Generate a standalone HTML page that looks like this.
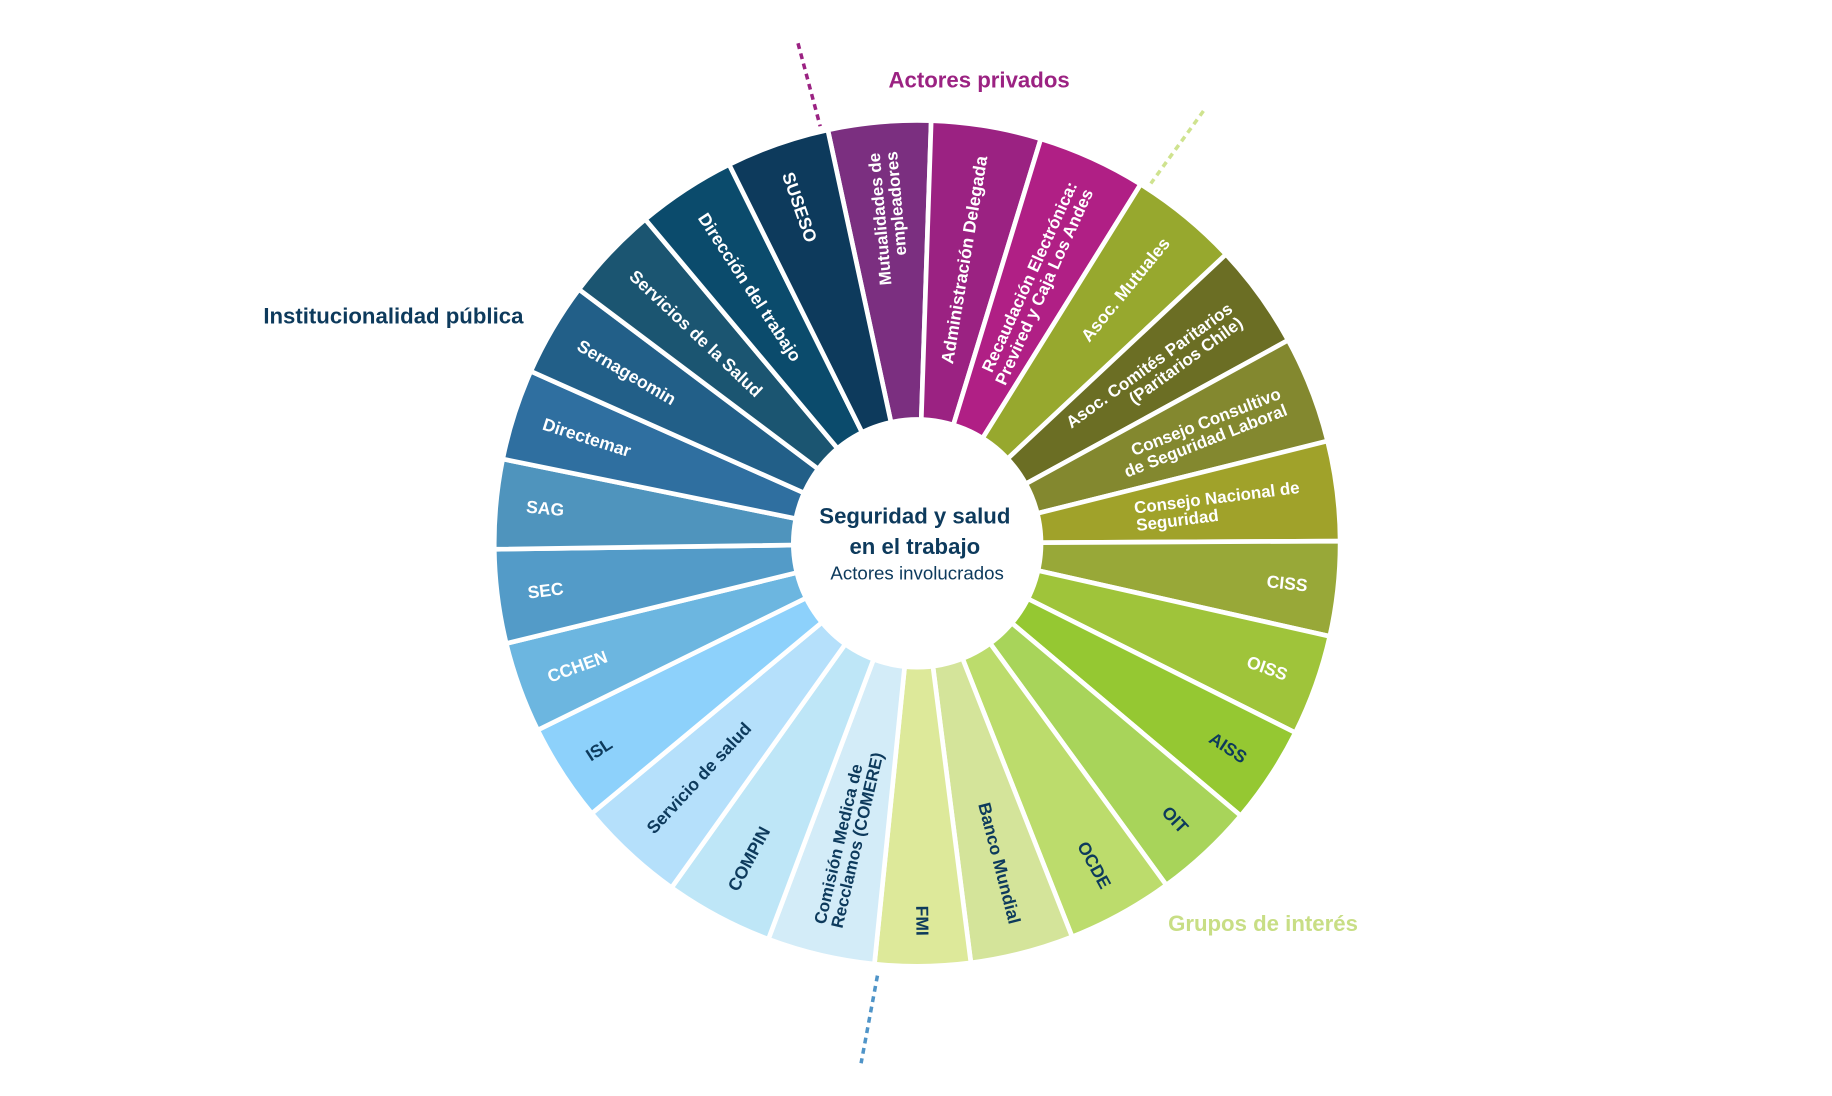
<!DOCTYPE html>
<html><head><meta charset="utf-8"><style>
html,body{margin:0;padding:0;background:#fff;}
svg{display:block;}
text{font-family:"Liberation Sans",Arial,sans-serif;}
</style></head><body>
<svg id="s" width="1832" height="1096" viewBox="0 0 1568 938" xmlns="http://www.w3.org/2000/svg">
<g id="segs"></g>
<circle cx="785" cy="465" r="108" fill="#fff"/>
<text x="783" y="448" text-anchor="middle" font-size="19" font-weight="bold" fill="#0d3a5c">Seguridad y salud</text>
<text x="783" y="474" text-anchor="middle" font-size="19" font-weight="bold" fill="#0d3a5c">en el trabajo</text>
<text x="785" y="496" text-anchor="middle" font-size="16" fill="#0d3a5c">Actores involucrados</text>
<text x="838" y="75" text-anchor="middle" font-size="19" font-weight="bold" fill="#9b2282">Actores privados</text>
<text x="448" y="277" text-anchor="end" font-size="19" font-weight="bold" fill="#0d3a5c">Institucionalidad pública</text>
<text x="1081" y="797" text-anchor="middle" font-size="19" font-weight="bold" fill="#c8de85">Grupos de interés</text>
<line x1="683" y1="37" x2="702" y2="108" stroke="#9b2282" stroke-width="3" stroke-dasharray="5,4"/>
<line x1="1030" y1="95" x2="985" y2="157" stroke="#cfe38f" stroke-width="3" stroke-dasharray="5,4"/>
<line x1="751" y1="835" x2="737" y2="910" stroke="#4f94c8" stroke-width="3" stroke-dasharray="5,4"/>
</svg>
<script>
var A=[-12.2,1.9,17.0,31.9,46.9,61.3,76.0,89.7,102.7,116.6,130.1,143.9,158.5,172.7,185.8,200.6,215.5,230.3,243.8,256.3,269.2,281.5,294.0,306.9,320.0,333.6,347.8];
var D="#0d3a5c",W="#fff";
var S=[
["#7b2f80",W,["Mutualidades de","empleadores"]],
["#9b2282",W,["Administración Delegada"]],
["#b01f85",W,["Recaudación Electrónica:","Previred y Caja Los Andes"]],
["#97a82e",W,["Asoc. Mutuales"]],
["#6b6e24",W,["Asoc. Comités Paritarios","(Paritarios Chile)"]],
["#83882f",W,["Consejo Consultivo","de Seguridad Laboral"]],
["#a0a22a",W,["Consejo Nacional de","Seguridad"],1],
["#98a838",W,["CISS"]],
["#9fc43a",W,["OISS"]],
["#95c832",D,["AISS"]],
["#a8d45a",D,["OIT"]],
["#bcdc6c",D,["OCDE"]],
["#d4e49a",D,["Banco Mundial"]],
["#dde99a",D,["FMI"]],
["#d3ecf8",D,["Comisión Medica de","Recclamos (COMERE)"]],
["#bee6f7",D,["COMPIN"]],
["#b5e0fb",D,["Servicio de salud"]],
["#8dd1fb",D,["ISL"]],
["#6cb6e0",W,["CCHEN"]],
["#539bc8",W,["SEC"]],
["#4f94bd",W,["SAG"]],
["#2f6fa0",W,["Directemar"]],
["#225f88",W,["Sernageomin"]],
["#1b5571",W,["Servicios de la Salud"]],
["#0b4b6c",W,["Dirección del trabajo"]],
["#0d3a5c",W,["SUSESO"]]
];
var cx=785,cy=465,R=362,ns="http://www.w3.org/2000/svg",g=document.getElementById("segs");
function pt(a,r){var t=a*Math.PI/180;return [cx+r*Math.sin(t),cy-r*Math.cos(t)];}
for(var i=0;i<26;i++){
 var a0=A[i],a1=A[i+1],p0=pt(a0,R),p1=pt(a1,R);
 var p=document.createElementNS(ns,"path");
 p.setAttribute("d","M"+cx+","+cy+" L"+p0[0]+","+p0[1]+" A"+R+","+R+" 0 0 1 "+p1[0]+","+p1[1]+" Z");
 p.setAttribute("fill",S[i][0]);p.setAttribute("stroke","#fff");p.setAttribute("stroke-width","4");p.setAttribute("stroke-linejoin","round");
 g.appendChild(p);
}
for(var i=0;i<26;i++){
 var m=(A[i]+A[i+1])/2, s=S[i], lines=s[2], right=(m<180);
 var t=m*Math.PI/180, rot, anchor, pos;
 if(right){rot=Math.atan2(-Math.cos(t),Math.sin(t))*180/Math.PI;}
 else{rot=Math.atan2(Math.cos(t),-Math.sin(t))*180/Math.PI;}
 var rr=right?336:336;
 anchor=right?"end":"start";
 if(s[3]){rr=188;anchor="start";}
 pos=pt(m,rr);
 var tx=document.createElementNS(ns,"text");
 tx.setAttribute("transform","translate("+pos[0]+","+pos[1]+") rotate("+rot+")");
 tx.setAttribute("text-anchor",anchor);
 tx.setAttribute("font-size",lines.length>1?"14.5":"15");
 tx.setAttribute("font-weight","bold");
 tx.setAttribute("fill",s[1]);
 for(var k=0;k<lines.length;k++){
  var ts=document.createElementNS(ns,"tspan");
  ts.setAttribute("x","0");
  var y=lines.length>1?(k==0?-2:13):5;
  ts.setAttribute("y",y);
  ts.textContent=lines[k];
  tx.appendChild(ts);
 }
 g.appendChild(tx);
}
</script>
</body></html>
